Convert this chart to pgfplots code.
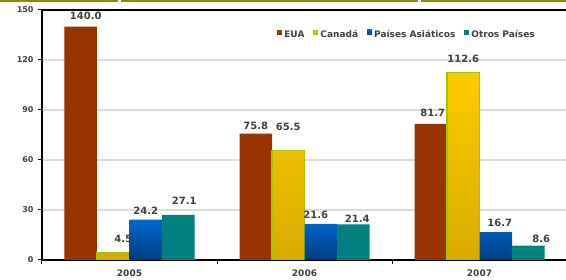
\documentclass[border=0pt]{standalone}
\usepackage{pgfplots}
\pgfplotsset{compat=1.18}
\usepackage{fontspec}
\setmainfont{DejaVu Sans}
\definecolor{eua}{HTML}{993300}
\definecolor{canTop}{HTML}{FFCC00}
\definecolor{canBot}{HTML}{D6AC00}
\definecolor{canEdge}{HTML}{99CC00}
\definecolor{asiaTop}{HTML}{0068D0}
\definecolor{asiaBot}{HTML}{003C7E}
\definecolor{asiaLeg}{HTML}{004C9C}
\definecolor{otros}{HTML}{008080}
\definecolor{lbl}{HTML}{404040}
\definecolor{gridc}{HTML}{DCDCDC}
\definecolor{olivebar}{HTML}{8C8C00}
\begin{document}
\begin{tikzpicture}[x=1pt,y=1pt]
\useasboundingbox (0,0) rectangle (566,280);
\begin{axis}[
  at={(42pt,20pt)}, anchor=south west,
  scale only axis, width=526pt, height=250pt,
  xmin=-0.5, xmax=2.5057, ymin=0, ymax=150,
  ybar=0pt, bar width=32.5pt,
  axis line style={black, line width=1.5pt},
  tick style={black, line width=1pt},
  major tick length=4pt, tick align=outside,
  xtick pos=bottom, ytick pos=left,
  xtick={-0.5,0.5,1.5,2.5}, xticklabels={},
  extra x ticks={0,1,2}, extra x tick labels={2005,2006,2007},
  extra x tick style={major tick length=0pt, tick style={draw=none}},
  ytick={0,30,60,90,120,150},
  /pgf/number format/assume math mode=true,
  yticklabel style={font=\bfseries\fontsize{8}{9}\selectfont, text=lbl, xshift=-1pt},
  xticklabel style={font=\bfseries\fontsize{9}{10}\selectfont, text=lbl, yshift=-6pt},
  ymajorgrids, grid style={gridc, line width=2pt},
  point meta=explicit symbolic,
  nodes near coords,
  visualization depends on={\thisrow{dx} \as \dx},
  visualization depends on={\thisrow{dy} \as \dy},
  every node near coord/.append style={font=\bfseries\fontsize{10}{12}\selectfont, text=lbl, inner sep=0pt, anchor=base, xshift=\dx pt, yshift=\dy pt},
  legend columns=4,
  legend style={at={(0.941,0.9)}, anchor=east, draw=none, fill=none,
    font=\bfseries\fontsize{9}{11}\selectfont, text=lbl, inner sep=0pt,
    /tikz/every even column/.append style={column sep=7pt}},
]
\addplot[fill=eua, draw=none,
  legend image code/.code={\fill[eua] (0pt,0pt) rectangle (5pt,5pt);}]
  table[meta=lab] {
x y dx dy lab
0 140.0 5 6.7 140.0
1 75.8 0 3.7 75.8
2 81.7 2 7 81.7
};
\addlegendentry{EUA}
\addplot[draw=canEdge, line width=1.3pt, top color=canTop, bottom color=canBot,
  legend image code/.code={\filldraw[fill=canTop, draw=canEdge, line width=1.2pt] (0.6pt,0.6pt) rectangle (4.4pt,4.4pt);}]
  table[meta=lab] {
x y dx dy lab
0 4.5 10 10 4.5
1 65.5 0 20 65.5
2 112.6 0 10 112.6
};
\addlegendentry{Canadá}
\addplot[draw=none, top color=asiaTop, bottom color=asiaBot,
  legend image code/.code={\fill[asiaLeg] (0pt,0pt) rectangle (5pt,5pt);}]
  table[meta=lab] {
x y dx dy lab
0 24.2 0 4.7 24.2
1 21.6 -5 5 21.6
2 16.7 4 6 16.7
};
\addlegendentry{Países Asiáticos}
\addplot[fill=otros, draw=none,
  legend image code/.code={\fill[otros] (0pt,0pt) rectangle (5pt,5pt);}]
  table[meta=lab] {
x y dx dy lab
0 27.1 6 10 27.1
1 21.4 4 1.6 21.4
2 8.6 13 2.7 8.6
};
\addlegendentry{Otros Países}
\end{axis}
\fill[olivebar] (0,278.3) rectangle (118,280);
\fill[olivebar] (121,278.3) rectangle (418,280);
\fill[olivebar] (421,278.3) rectangle (566,280);
\end{tikzpicture}
\end{document}
